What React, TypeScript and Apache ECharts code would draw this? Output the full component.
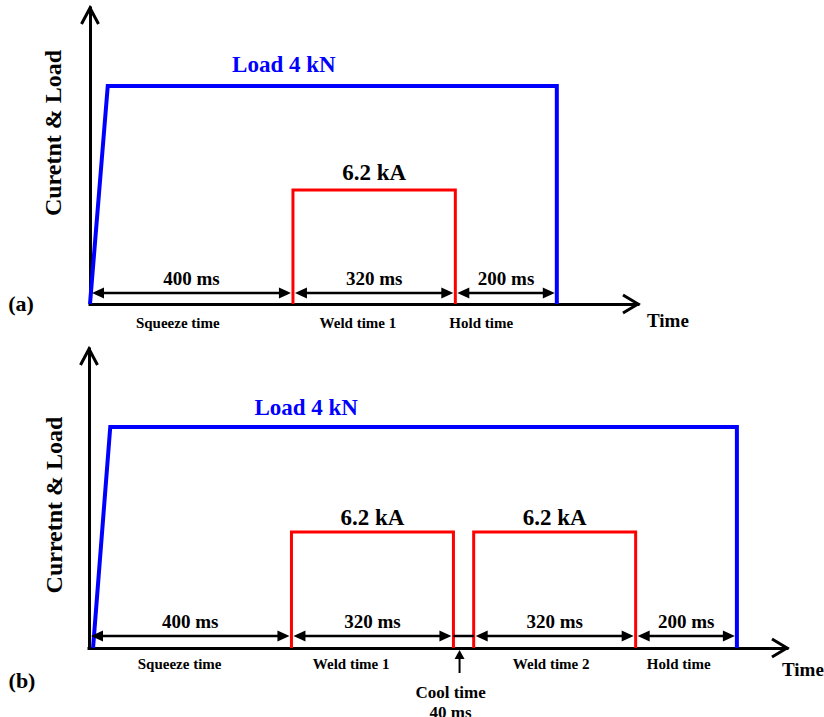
import React, { useEffect, useRef } from "react";
import * as echarts from "echarts";

// ---------- data ----------
const loadLabel = "Load 4 kN";
const currentLabel = "6.2 kA";
const loadKN = 4;
const currentKA = 6.2;

// Panel (a)
const aDurations = [400, 320, 200]; // ms
const aDurationLabels = ["400 ms", "320 ms", "200 ms"];
const aPhaseNames = ["Squeeze time", "Weld time 1", "Hold time"];
const aPhaseLabelAt = [173, 528, 771]; // ms
const aLoadT = [0, 35, 920, 920];
const aLoadV = [0, loadKN, loadKN, 0];
const aPulses = [[400, 720]];
const aLoadLabelAt = 382;
const aYName = "Curetnt & Load";

// Panel (b)
const bDurations = [400, 320, 40, 320, 200];
const bDurationLabels = ["400 ms", "320 ms", "", "320 ms", "200 ms"];
const bPhaseNames = ["Squeeze time", "Weld time 1", "Weld time 2", "Hold time"];
const bPhaseLabelAt = [179, 518, 913, 1165];
const bLoadT = [8, 42, 1280, 1280];
const bLoadV = [0, loadKN, loadKN, 0];
const bPulses = [[400, 720], [760, 1080]];
const bLoadLabelAt = 429;
const bYName = "Curretnt & Load";
const coolLabel = "Cool time\n40 ms";

const FONT = "Liberation Serif";

function pulseData(p: number[]) {
  return [[p[0], 0], [p[0], currentKA], [p[1], currentKA], [p[1], 0]];
}

export default function App() {
  const ref = useRef<HTMLDivElement>(null);
  useEffect(() => {
    if (!ref.current) return;
    const chart = echarts.init(ref.current, null, { renderer: "svg" });
    const axisLine = { show: true, lineStyle: { color: "#000", width: 3, cap: "square" } };
    const hidden = { axisTick: { show: false }, axisLabel: { show: false }, splitLine: { show: false } };
    const series: any[] = [];
    const panels = [
      { load: [aLoadT, aLoadV], pulses: aPulses, x: 0, yl: 0, yc: 1 },
      { load: [bLoadT, bLoadV], pulses: bPulses, x: 1, yl: 2, yc: 3 },
    ];
    panels.forEach((p) => {
      series.push({
        type: "line",
        xAxisIndex: p.x,
        yAxisIndex: p.yl,
        data: p.load[0].map((t, i) => [t, p.load[1][i]]),
        symbol: "none",
        lineStyle: { color: "#0000ff", width: 4, join: "miter" },
        z: 3,
      });
      p.pulses.forEach((pl) => {
        series.push({
          type: "line",
          xAxisIndex: p.x,
          yAxisIndex: p.yc,
          data: pulseData(pl),
          symbol: "none",
          lineStyle: { color: "#ff0000", width: 3, join: "miter" },
          z: 3,
        });
      });
    });

    chart.setOption({
      animation: false,
      backgroundColor: "#fff",
      grid: [
        { left: 90, top: 8, width: 548, height: 296 },
        { left: 89, top: 349, width: 698, height: 299 },
      ],
      xAxis: [
        { gridIndex: 0, type: "value", min: 0, max: 1080, axisLine, ...hidden },
        { gridIndex: 1, type: "value", min: 0, max: 1379, axisLine, ...hidden },
      ],
      yAxis: [
        { gridIndex: 0, type: "value", min: 0, max: 5.43, axisLine, ...hidden },
        { gridIndex: 0, type: "value", min: 0, max: 16.1, show: false },
        { gridIndex: 1, type: "value", min: 0, max: 5.41, axisLine, ...hidden },
        { gridIndex: 1, type: "value", min: 0, max: 15.98, show: false },
      ],
      series,
    });

    const g: any[] = [];
    const txt = (text: string, x: number, y: number, size: number, opts: any = {}) => {
      g.push({
        type: "text",
        x,
        y,
        rotation: opts.rotation || 0,
        z: 10,
        style: {
          text,
          fill: opts.fill || "#000",
          fontSize: size,
          fontWeight: "bold",
          fontFamily: FONT,
          align: opts.align || "center",
          verticalAlign: "middle",
          lineHeight: opts.lineHeight,
        },
      });
    };
    const stroke = { stroke: "#000", lineWidth: 3, fill: "none" };

    const cfg = [
      {
        xi: 0, yl: 0, yc: 1, durations: aDurations, dLabels: aDurationLabels,
        phases: aPhaseNames, phaseAt: aPhaseLabelAt, pulses: aPulses,
        loadAt: aLoadLabelAt, yName: aYName, arrowOff: 11, phaseOff: 19,
        curOff: 18, loadOff: 21, timeDx: 9, timeDy: 16, tag: "(a)", tagPos: [21, 303], yNamePos: [53, 133],
      },
      {
        xi: 1, yl: 2, yc: 3, durations: bDurations, dLabels: bDurationLabels,
        phases: bPhaseNames, phaseAt: bPhaseLabelAt, pulses: bPulses,
        loadAt: bLoadLabelAt, yName: bYName, arrowOff: 12, phaseOff: 16,
        curOff: 14, loadOff: 19, timeDx: -5, timeDy: 21, tag: "(b)", tagPos: [22, 680], yNamePos: [54, 505],
      },
    ];

    cfg.forEach((c, pi) => {
      const P = (t: number, v: number, yi: number) =>
        chart.convertToPixel({ xAxisIndex: c.xi, yAxisIndex: yi } as any, [t, v]) as number[];
      const origin = P(0, 0, c.yl);
      const base = origin[1];
      const xMax = pi === 0 ? 1080 : 1379;
      const yMax = pi === 0 ? 5.43 : 5.41;
      const right = P(xMax, 0, c.yl)[0];
      const top = P(0, yMax, c.yl)[1];
      // axis chevrons
      g.push({ type: "polyline", z: 10, shape: { points: [[origin[0] - 8.5, top + 16], [origin[0], top], [origin[0] + 8.5, top + 16]] }, style: stroke });
      g.push({ type: "polyline", z: 10, shape: { points: [[right - 15, base - 9], [right, base], [right - 15, base + 9]] }, style: stroke });
      txt("Time", right + c.timeDx, base + c.timeDy, 19, { align: "left" });
      txt(c.tag, c.tagPos[0], c.tagPos[1], 22);
      txt(c.yName, c.yNamePos[0], c.yNamePos[1], 24, { rotation: Math.PI / 2 });

      // duration arrows
      const ay = base - c.arrowOff;
      let t0 = 0;
      c.durations.forEach((d, i) => {
        const x0 = P(t0, 0, c.yl)[0];
        const x1 = P(t0 + d, 0, c.yl)[0];
        t0 += d;
        if (!c.dLabels[i]) {
          g.push({ type: "line", z: 9, shape: { x1: x0, y1: ay, x2: x1, y2: ay }, style: { stroke: "#000", lineWidth: 2.5 } });
          return;
        }
        const l = x0 + 2, r = x1 - 2;
        g.push({ type: "line", z: 9, shape: { x1: l + 4, y1: ay, x2: r - 4, y2: ay }, style: { stroke: "#000", lineWidth: 2.5 } });
        g.push({ type: "polygon", z: 9, shape: { points: [[l, ay], [l + 12, ay - 5.5], [l + 12, ay + 5.5]] }, style: { fill: "#000" } });
        g.push({ type: "polygon", z: 9, shape: { points: [[r, ay], [r - 12, ay - 5.5], [r - 12, ay + 5.5]] }, style: { fill: "#000" } });
        txt(c.dLabels[i], (x0 + x1) / 2, ay - 15, 19);
      });

      // phase names
      c.phases.forEach((n, i) => {
        txt(n, P(c.phaseAt[i], 0, c.yl)[0], base + c.phaseOff, 15);
      });

      // current labels
      c.pulses.forEach((pl) => {
        const pt = P((pl[0] + pl[1]) / 2, currentKA, c.yc);
        txt(currentLabel, pt[0], pt[1] - c.curOff, 23);
      });

      // load label
      const lp = P(c.loadAt, loadKN, c.yl);
      txt(loadLabel, lp[0], lp[1] - c.loadOff, 23, { fill: "#0000ff" });

      // cool time marker
      if (pi === 1) {
        const ct = (bPulses[0][1] + bPulses[1][0]) / 2;
        const cx = P(ct, 0, c.yl)[0] - 4;
        g.push({ type: "polygon", z: 9, shape: { points: [[cx, base + 2], [cx - 5, base + 11], [cx + 5, base + 11]] }, style: { fill: "#000" } });
        g.push({ type: "line", z: 9, shape: { x1: cx, y1: base + 10, x2: cx, y2: base + 25 }, style: { stroke: "#000", lineWidth: 2 } });
        txt(coolLabel, cx - 9, base + 54, 17, { lineHeight: 20 });
      }
    });

    chart.setOption({ graphic: g });
    return () => chart.dispose();
  }, []);
  return (
    <div
      ref={ref}
      style={{ position: "absolute", left: 0, top: 0, width: 824, height: 717, background: "#fff" }}
    />
  );
}
